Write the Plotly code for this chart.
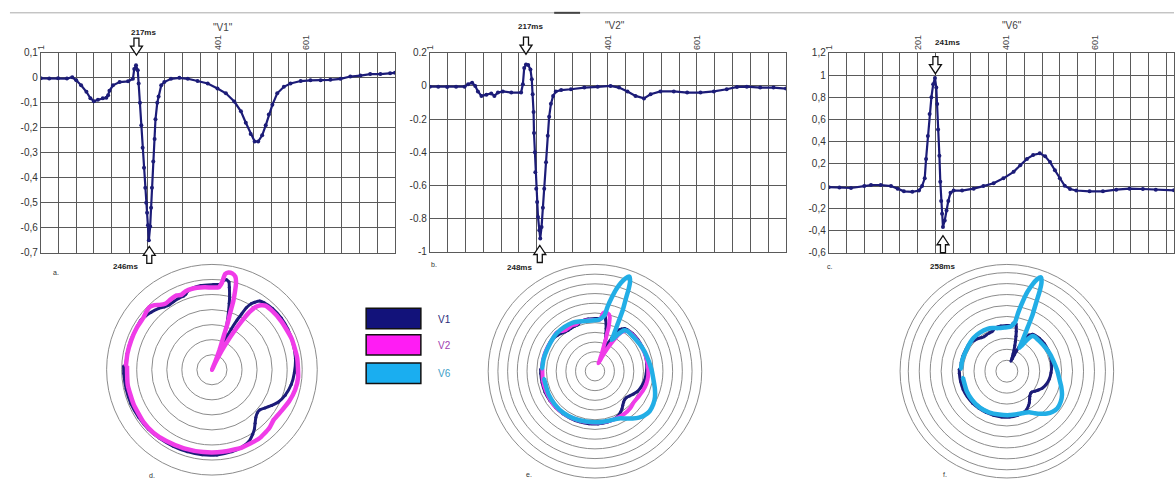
import plotly.graph_objects as go

# ---------------- data ----------------
T_V1 = [1, 20, 40, 60, 72, 81, 92, 104, 113, 121, 130, 141, 149, 153, 156, 164, 179, 198, 209,
        212, 216, 220, 222, 225, 228, 231, 234, 237, 239, 241, 243, 245, 248, 250, 252, 255, 258,
        260, 264, 267, 273, 280, 295, 314, 333, 355, 378, 400, 419, 438, 453, 464, 475, 484, 492,
        501, 509, 516, 524, 535, 550, 565, 588, 610, 633, 655, 678, 700, 723, 745, 768, 790, 801]
V1 = [-0.002, -0.003, -0.002, -0.003, 0.002, -0.01, -0.03, -0.056, -0.082, -0.094, -0.088, -0.082,
      -0.08, -0.07, -0.052, -0.03, -0.017, -0.014, -0.004, 0.035, 0.05, 0.03, -0.023, -0.10, -0.19,
      -0.28, -0.36, -0.44, -0.50, -0.54, -0.59, -0.65, -0.595, -0.52, -0.44, -0.335, -0.245, -0.166,
      -0.10, -0.075, -0.03, -0.017, -0.004, 0.0, -0.004, -0.013, -0.023, -0.043, -0.062, -0.095,
      -0.134, -0.18, -0.225, -0.255, -0.255, -0.23, -0.19, -0.147, -0.108, -0.062, -0.036, -0.023,
      -0.013, -0.01, -0.01, -0.008, -0.004, 0.005, 0.009, 0.015, 0.015, 0.018, 0.02]

T_V2 = [1, 20, 40, 60, 79, 87, 96, 103, 109, 117, 128, 139, 146, 154, 165, 184, 206, 210, 213, 217,
        222, 227, 230, 232, 234, 235, 237, 238, 240, 242, 244, 247, 249, 252, 255, 258, 262, 266,
        269, 273, 278, 284, 296, 318, 348, 378, 407, 426, 445, 463, 482, 497, 519, 549, 579, 609,
        639, 668, 691, 713, 743, 773, 801]
V2 = [-0.004, -0.005, -0.006, -0.005, -0.004, 0.01, 0.02, 0.0, -0.033, -0.06, -0.053, -0.045, -0.06,
      -0.04, -0.033, -0.04, -0.04, 0.01, 0.108, 0.13, 0.127, 0.10, 0.04, -0.05, -0.157, -0.284,
      -0.40, -0.52, -0.62, -0.70, -0.79, -0.87, -0.92, -0.85, -0.735, -0.62, -0.46, -0.30, -0.186,
      -0.108, -0.06, -0.033, -0.025, -0.02, -0.01, -0.005, 0.0, -0.01, -0.033, -0.06, -0.075, -0.05,
      -0.033, -0.033, -0.04, -0.04, -0.033, -0.02, -0.006, -0.004, -0.01, -0.01, -0.016]

T_V6 = [1, 25, 51, 81, 96, 118, 141, 156, 170, 189, 204, 211, 217, 220, 224, 228, 232, 236, 240,
        243, 245, 247, 250, 252, 254, 256, 258, 262, 266, 270, 275, 282, 301, 327, 349, 372, 394,
        417, 432, 447, 461, 476, 488, 499, 510, 521, 532, 544, 558, 588, 618, 648, 678, 708, 737, 778]
V6 = [-0.01, -0.012, -0.017, 0.0, 0.01, 0.01, 0.0, -0.023, -0.047, -0.052, -0.04, 0.0, 0.07, 0.245,
      0.45, 0.65, 0.80, 0.916, 0.974, 0.887, 0.74, 0.51, 0.274, 0.04, -0.134, -0.25, -0.368, -0.31,
      -0.22, -0.134, -0.06, -0.04, -0.04, -0.023, 0.0, 0.026, 0.07, 0.128, 0.187, 0.245, 0.28, 0.295,
      0.268, 0.216, 0.143, 0.07, 0.003, -0.026, -0.04, -0.047, -0.047, -0.032, -0.023, -0.026,
      -0.032, -0.038]

CYCLE_MS = 800
X_LABELS_AB = ["1", "401", "601"]
X_LABELS_C = ["1", "201", "401", "601"]
Y_LABELS_A = ["-0,7", "-0,6", "-0,5", "-0,4", "-0,3", "-0,2", "-0,1", "0", "0,1"]
Y_VALUES_A = [-0.7, -0.6, -0.5, -0.4, -0.3, -0.2, -0.1, 0.0, 0.1]
Y_LABELS_B = ["-1", "-0.8", "-0.6", "-0.4", "-0.2", "0", "0.2"]
Y_VALUES_B = [-1.0, -0.8, -0.6, -0.4, -0.2, 0.0, 0.2]
Y_LABELS_C = ["-0,6", "-0,4", "-0,2", "0", "0,2", "0,4", "0,6", "0,8", "1", "1,2"]
Y_VALUES_C = [-0.6, -0.4, -0.2, 0.0, 0.2, 0.4, 0.6, 0.8, 1.0, 1.2]
SERIES_NAMES = ["V1", "V2", "V6"]
MARKS = {"a": (217, 246), "b": (217, 248), "c": (241, 258)}

# ---------------- styles ----------------
W, H = 1175, 484
NAVY = "#1c1c78"
MAGENTA = "#f03ce8"
CYAN = "#22aee6"
GRID = "#5a5a5a"
RING = "#8c8c8c"
FONT = "Liberation Sans"


def px(x):
    return x / W


def py(y):
    return 1 - y / H


fig = go.Figure()

# top panels
for t, v, xa, ya in [(T_V1, V1, "x", "y"), (T_V2, V2, "x2", "y2"), (T_V6, V6, "x3", "y3")]:
    fig.add_trace(go.Scatter(x=t, y=v, xaxis=xa, yaxis=ya, mode="lines+markers",
                             line=dict(color=NAVY, width=2.2),
                             marker=dict(color=NAVY, size=4), showlegend=False))


def theta(ts):
    return [t * 360.0 / CYCLE_MS for t in ts]


# polar panels
polar_sets = [
    ("polar", [(T_V1, V1, NAVY, 3), (T_V2, V2, MAGENTA, 4.5)]),
    ("polar2", [(T_V1, V1, NAVY, 3), (T_V2, V2, MAGENTA, 4), (T_V6, V6, CYAN, 4.5)]),
    ("polar3", [(T_V1, V1, NAVY, 3), (T_V6, V6, CYAN, 4.5)]),
]
for sp, items in polar_sets:
    for t, v, c, w in items:
        fig.add_trace(go.Scatterpolar(r=v, theta=theta(t), subplot=sp, mode="lines+markers",
                                      line=dict(color=c, width=w, shape="spline", smoothing=0.5),
                                      marker=dict(color=c, size=3), showlegend=False))


def xax(dom, rng, labels):
    vals = list(range(1, 802, 40))
    text = [str(v) if str(v) in labels else "" for v in vals]
    return dict(domain=dom, range=rng, side="top", tickmode="array", tickvals=vals, ticktext=text,
                tickangle=-90, showgrid=True, gridcolor=GRID, gridwidth=1, showline=True,
                mirror=True, linecolor=GRID, linewidth=1, zeroline=False, ticks="",
                tickfont=dict(size=9, color="#444", family=FONT))


def yax(dom, rng, vals, labels, anchor):
    return dict(domain=dom, range=rng, tickmode="array", tickvals=vals, ticktext=labels,
                showgrid=True, gridcolor=GRID, gridwidth=1, showline=True, mirror=True,
                linecolor=GRID, linewidth=1, zeroline=False, ticks="", anchor=anchor,
                tickfont=dict(size=10, color="#333", family=FONT))


def polar(xd, yd, rng, tick0, dtick):
    return dict(domain=dict(x=xd, y=yd), bgcolor="white",
                radialaxis=dict(range=rng, tick0=tick0, dtick=dtick, showticklabels=False,
                                ticks="", showline=False, gridcolor=RING, gridwidth=1),
                angularaxis=dict(rotation=178, direction="clockwise", showgrid=False,
                                 showticklabels=False, ticks="", linecolor=RING, linewidth=1))


fig.update_layout(
    width=W, height=H, margin=dict(l=0, r=0, t=0, b=0),
    paper_bgcolor="white", plot_bgcolor="white", showlegend=False,
    font=dict(family=FONT),
    xaxis=dict(xax([px(36), px(392)], [1, 801], X_LABELS_AB), anchor="y"),
    yaxis=yax([py(253), py(48)], [-0.7, 0.1], Y_VALUES_A, Y_LABELS_A, "x"),
    xaxis2=dict(xax([px(427), px(785)], [1, 801], X_LABELS_AB), anchor="y2"),
    yaxis2=yax([py(252), py(48)], [-1.0, 0.2], Y_VALUES_B, Y_LABELS_B, "x2"),
    xaxis3=dict(xax([px(828), 1.0], [1, 778], X_LABELS_C), anchor="y3"),
    yaxis3=yax([py(253), py(48)], [-0.6, 1.2], Y_VALUES_C, Y_LABELS_C, "x3"),
    polar=polar([px(100), px(316)], [py(481), py(265)], [-0.92, 0.20], -0.92, 0.16),
    polar2=polar([px(483), px(703)], [0.0, py(265)], [-1.1, 1.1], -1.1, 0.2),
    polar3=polar([px(895), px(1119)], [0.0, py(265)], [-0.85, 1.1], -0.85, 0.2),
)

ann = []
shapes = []


def txt(x, y, s, size=9, color="#222", bold=False, xref="paper", **kw):
    ann.append(dict(x=x, y=y, xref=xref, yref="paper", text=("<b>%s</b>" % s) if bold else s,
                    xanchor="center", yanchor="middle", showarrow=False,
                    font=dict(size=size, color=color, family=FONT), **kw))


DOWN = "M -2.5 0 L 2.5 0 L 2.5 -8 L 6 -8 L 0 -17 L -6 -8 L -2.5 -8 Z"
UP = "M -2.5 0 L 2.5 0 L 2.5 8 L 6 8 L 0 17 L -6 8 L -2.5 8 Z"


def arrow(xr, t, y_px, path):
    shapes.append(dict(type="path", xref=xr, yref="paper", xsizemode="pixel", ysizemode="pixel",
                       xanchor=t, yanchor=py(y_px), path=path, fillcolor="white",
                       line=dict(color="#111", width=1.3), layer="above"))


# series titles
txt(px(219), py(22), '"%s"' % SERIES_NAMES[0], size=10, color="#444")
txt(px(613), py(20), '"%s"' % SERIES_NAMES[1], size=10, color="#444")
txt(px(1012), py(20), '"%s"' % SERIES_NAMES[2], size=10, color="#444")

# timing arrows and labels
for key, xr, top_lab_y, top_dx, down_top, up_bottom, bot_lab_y, bot_dx in [
    ("a", "x", 27, 7, 33, 264, 267, -24),
    ("b", "x2", 21, 5, 32, 263, 268, -20),
    ("c", "x3", 37, 12, 52, 253, 267, 0),
]:
    t1, t2 = MARKS[key]
    txt(t1, py(top_lab_y), "%dms" % t1, size=8, bold=True, xref=xr, xshift=top_dx)
    arrow(xr, t1, down_top, DOWN)
    arrow(xr, t2, up_bottom, UP)
    txt(t2, py(bot_lab_y), "%dms" % t2, size=8, bold=True, xref=xr, xshift=bot_dx)

# panel letters
for s, x, y in [("a.", 51, 273), ("b.", 431, 265), ("c.", 829, 267),
                ("d.", 148, 481), ("e.", 527, 480), ("f.", 945, 480)]:
    txt(px(x), py(y), s, size=7, color="#333")

# legend
for name, col, y0, tcol in [(SERIES_NAMES[0], "#12127a", 310, "#2a2a7a"),
                            (SERIES_NAMES[1], "#ff1cf4", 337, "#a040b0"),
                            (SERIES_NAMES[2], "#1aaef0", 366, "#40a0c8")]:
    shapes.append(dict(type="rect", xref="paper", yref="paper", x0=px(363), x1=px(418),
                       y0=py(y0 + 21), y1=py(y0), fillcolor=col,
                       line=dict(color="#111", width=1.5)))
    txt(px(442), py(y0 + 11), name, size=10, color=tcol)

# faint top frame line
shapes.append(dict(type="line", xref="paper", yref="paper", x0=px(5), x1=1, y0=py(7), y1=py(7),
                   line=dict(color="#aaaaaa", width=1)))
shapes.append(dict(type="line", xref="paper", yref="paper", x0=px(552), x1=px(578), y0=py(7),
                   y1=py(7), line=dict(color="#444", width=2)))

fig.update_layout(annotations=ann, shapes=shapes)
fig.write_html("out.html", config={"displayModeBar": False},
               post_script="document.body.style.margin='0px';")
